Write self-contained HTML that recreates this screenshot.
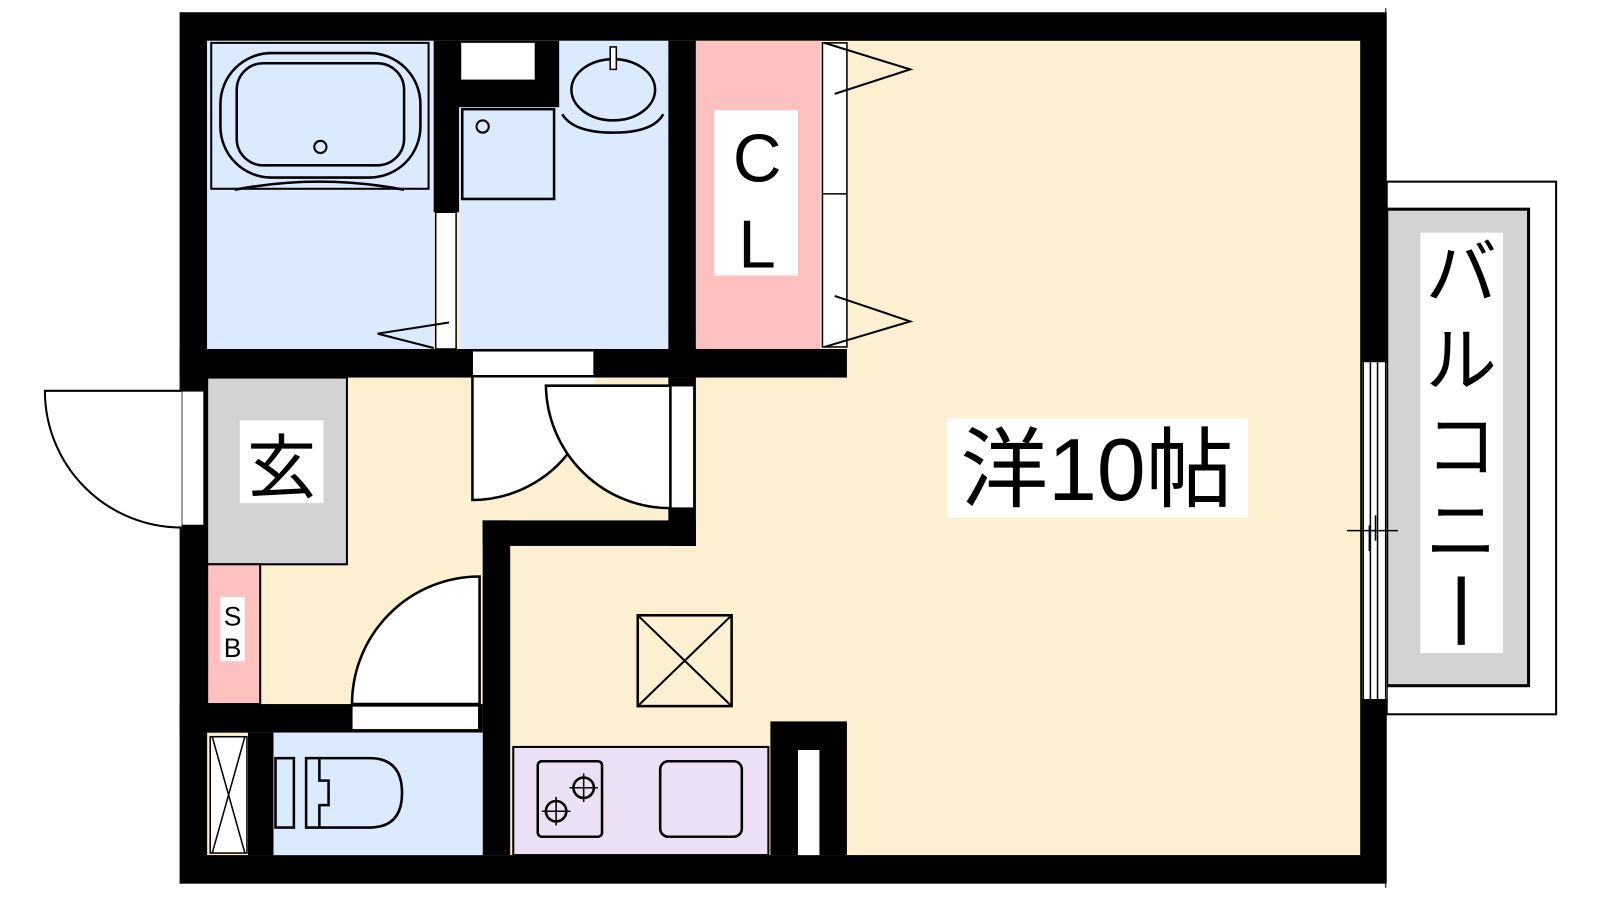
<!DOCTYPE html>
<html><head><meta charset="utf-8"><style>
html,body{margin:0;padding:0;background:#fff;width:1600px;height:900px;overflow:hidden}
text{font-family:"Liberation Sans","Noto Sans CJK JP",sans-serif}
</style></head><body>
<svg width="1600" height="900" viewBox="0 0 1600 900" xmlns="http://www.w3.org/2000/svg">
<g transform="scale(1.0204)">
<!-- balcony -->
<rect x="1359" y="178" width="166" height="522" fill="#fff" stroke="#000" stroke-width="2"/>
<rect x="1359" y="205" width="139" height="467" fill="#d3d3d3" stroke="#000" stroke-width="3"/>
<rect x="1392" y="228" width="81" height="412" fill="#fff"/>
<text x="1432" y="292" font-size="70" text-anchor="middle">バ</text>
<text x="1432" y="378" font-size="70" text-anchor="middle">ル</text>
<text x="1432" y="462" font-size="70" text-anchor="middle">コ</text>
<text x="1432" y="545" font-size="70" text-anchor="middle">ニ</text>
<line x1="1432" y1="565" x2="1432" y2="632" stroke="#000" stroke-width="7"/>

<!-- outer walls -->
<rect x="176" y="12" width="1183" height="854" fill="#000"/>
<rect x="203" y="40" width="1130" height="798" fill="#fdf0d0"/>

<!-- bath -->
<rect x="203" y="40" width="222" height="302" fill="#dbeafe"/>
<rect x="207" y="42" width="213" height="143" fill="none" stroke="#000" stroke-width="2"/>
<rect x="216" y="52" width="196" height="122" rx="50" fill="none" stroke="#000" stroke-width="2.5"/>
<rect x="232" y="62" width="164" height="100" rx="26" fill="none" stroke="#000" stroke-width="2.5"/>
<path d="M230 186 Q313 170 396 186" fill="none" stroke="#000" stroke-width="2.5"/>
<circle cx="314" cy="144" r="6" fill="none" stroke="#000" stroke-width="2"/>
<rect x="425" y="40" width="25" height="168" fill="#000"/>
<rect x="427" y="208" width="20" height="134" fill="#fff" stroke="#000" stroke-width="1.5"/>
<polyline points="440,316 370,327 425,341" fill="none" stroke="#000" stroke-width="2"/>

<!-- wash -->
<rect x="450" y="40" width="205" height="302" fill="#dbeafe"/>
<rect x="447" y="40" width="101" height="65" fill="#000"/>
<rect x="452" y="42" width="72" height="36" fill="#fff"/>
<rect x="453" y="107" width="90" height="88" fill="none" stroke="#000" stroke-width="2.5"/>
<circle cx="473" cy="124" r="6" fill="none" stroke="#000" stroke-width="2"/>
<ellipse cx="601" cy="88" rx="41" ry="30" fill="none" stroke="#000" stroke-width="2.5"/>
<path d="M551 112 Q562 130 601 130 Q640 130 650 112" fill="none" stroke="#000" stroke-width="2.5"/>
<rect x="598" y="46" width="6" height="22" fill="#fff" stroke="#000" stroke-width="1.5"/>

<!-- CL -->
<rect x="655" y="40" width="27" height="330" fill="#000"/>
<rect x="682" y="40" width="122" height="302" fill="#ffc0c0"/>
<rect x="700" y="108" width="82" height="162" fill="#fff"/>
<text x="742" y="178" font-size="66" text-anchor="middle">C</text>
<text x="742" y="262" font-size="66" text-anchor="middle">L</text>
<rect x="806" y="42" width="24" height="298" fill="#fff" stroke="#000" stroke-width="1.5"/>
<line x1="806" y1="190" x2="830" y2="190" stroke="#000" stroke-width="1.5"/>
<polyline points="818,92 892,68 808,42" fill="none" stroke="#000" stroke-width="2"/>
<polyline points="818,290 892,315 808,340" fill="none" stroke="#000" stroke-width="2"/>

<!-- horizontal wall -->
<rect x="176" y="342" width="654" height="28" fill="#000"/>
<rect x="463" y="344" width="119" height="24" fill="#fff" stroke="#000" stroke-width="1"/>

<!-- genkan -->
<rect x="203" y="370" width="137" height="183" fill="#d3d3d3" stroke="#000" stroke-width="2"/>
<rect x="235" y="412" width="82" height="81" fill="#fff"/>
<text x="276" y="482" font-size="68" text-anchor="middle">玄</text>
<rect x="178" y="383" width="22" height="132" fill="#fff" stroke="#000" stroke-width="1.5"/>
<path d="M178 383 L44 383 A134 134 0 0 0 178 517" fill="#fff" stroke="#000" stroke-width="2"/>

<!-- SB -->
<rect x="203" y="553" width="52" height="137" fill="#ffc0c0" stroke="#000" stroke-width="2"/>
<rect x="216" y="585" width="24" height="63" fill="#fff"/>
<text x="228" y="613" font-size="26" text-anchor="middle">S</text>
<text x="228" y="644" font-size="26" text-anchor="middle">B</text>

<!-- inner walls -->
<rect x="473" y="510" width="27" height="328" fill="#000"/>
<rect x="473" y="510" width="209" height="25" fill="#000"/>
<rect x="655" y="370" width="27" height="165" fill="#000"/>
<rect x="657" y="378" width="23" height="120" fill="#fff" stroke="#000" stroke-width="1.5"/>

<!-- doors -->
<path d="M583 370 L463 370 L463 490 A120 120 0 0 0 583 370 Z" fill="#fff" stroke="none"/>
<path d="M463 368 L463 490 A120 120 0 0 0 560 440" fill="none" stroke="#000" stroke-width="2.5"/>
<path d="M657 378 L535 378 A122 122 0 0 0 657 498 Z" fill="#fff" stroke="#000" stroke-width="2.5"/>

<!-- toilet wall -->
<rect x="176" y="690" width="297" height="28" fill="#000"/>
<rect x="345" y="692" width="124" height="23" fill="#fff" stroke="#000" stroke-width="1"/>
<path d="M470 690 L470 565 A125 125 0 0 0 345 690 Z" fill="#fff" stroke="#000" stroke-width="2.5"/>

<!-- toilet -->
<rect x="268" y="718" width="205" height="120" fill="#dbeafe"/>
<rect x="243" y="718" width="25" height="120" fill="#000"/>
<rect x="206" y="722" width="36" height="114" fill="#fff" stroke="#000" stroke-width="1.5"/>
<path d="M208 722 L240 836 M240 722 L208 836" stroke="#000" stroke-width="1.5"/>
<rect x="270" y="743" width="18" height="68" fill="none" stroke="#000" stroke-width="2.5"/>
<path d="M300 743 L362 743 Q394 743 394 777 Q394 811 362 811 L300 811 Z" fill="none" stroke="#000" stroke-width="2.5"/>
<path d="M313 743 L313 765 L322 765 L322 789 L313 789 L313 811" fill="none" stroke="#000" stroke-width="2.5"/>

<!-- kitchen -->
<rect x="503" y="732" width="250" height="106" fill="#ede0f5" stroke="#000" stroke-width="2"/>
<rect x="527" y="746" width="63" height="74" rx="4" fill="none" stroke="#000" stroke-width="2.5"/>
<circle cx="572" cy="772" r="10" fill="none" stroke="#000" stroke-width="2.5"/>
<circle cx="545" cy="795" r="10" fill="none" stroke="#000" stroke-width="2.5"/>
<path d="M572 758v28M558 772h28M545 781v28M531 795h28" stroke="#000" stroke-width="1.5"/>
<rect x="647" y="746" width="80" height="74" rx="8" fill="none" stroke="#000" stroke-width="2.5"/>
<rect x="755" y="707" width="75" height="131" fill="#000"/>
<rect x="782" y="735" width="21" height="103" fill="#fff"/>

<!-- vent -->
<rect x="625" y="603" width="92" height="89" fill="none" stroke="#000" stroke-width="2.5"/>
<path d="M625 603 L717 692 M717 603 L625 692" stroke="#000" stroke-width="2"/>

<!-- main label -->
<rect x="928" y="410" width="295" height="97" fill="#fff"/>
<text x="1075" y="490" font-size="86" text-anchor="middle">洋10帖</text>

<!-- window -->
<rect x="1335" y="355" width="24" height="330" fill="#fff"/>
<path d="M1336 355v330M1343 355v330M1350 355v330M1358 355v330" stroke="#000" stroke-width="1.5"/>
<path d="M1320 520h50M1348 505v25M1342 515v25" stroke="#000" stroke-width="1.5"/>
<line x1="1358" y1="8" x2="1358" y2="870" stroke="#000" stroke-width="1"/>
</g>
</svg>
</body></html>
